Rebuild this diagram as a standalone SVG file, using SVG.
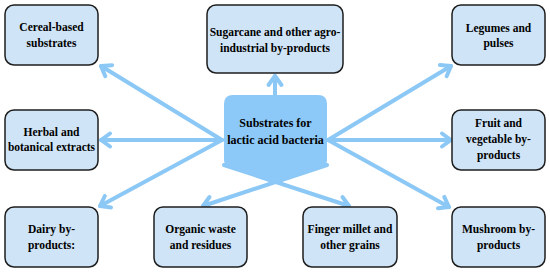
<svg xmlns="http://www.w3.org/2000/svg" width="550" height="272" viewBox="0 0 550 272">
<style>
.box{fill:#cfe4f6;stroke:#1e1e1e;stroke-width:1.5}
.t{font-family:"Liberation Serif","Times New Roman","DejaVu Serif",serif;font-weight:bold;font-size:11.5px;fill:#000;text-anchor:middle}
.tc{font-size:12px}
.c{stroke:#8cc8f5;stroke-width:4;fill:none;stroke-linecap:round;marker-end:url(#ah)}
</style>
<defs>
<marker id="ah" markerUnits="userSpaceOnUse" markerWidth="16" markerHeight="16" viewBox="0 0 16 16" refX="12" refY="8" orient="auto" overflow="visible">
<path d="M3,1.5 L12,8 L3,14.5" fill="none" stroke="#8cc8f5" stroke-width="4" stroke-linecap="round" stroke-linejoin="round"/>
</marker>
</defs>
<g id="connectors">
<line class="c" x1="222" y1="140" x2="101" y2="66"/>
<line class="c" x1="222" y1="140" x2="101" y2="140"/>
<line class="c" x1="222" y1="140" x2="100" y2="206"/>
<line class="c" x1="275" y1="100" x2="275" y2="76"/>
<line class="c" x1="328" y1="140" x2="451" y2="66"/>
<line class="c" x1="328" y1="140" x2="451" y2="140"/>
<line class="c" x1="328" y1="140" x2="449" y2="207"/>
<line class="c" x1="327" y1="165" x2="203" y2="206"/>
<line class="c" x1="224" y1="165" x2="349" y2="206"/>
</g>
<g id="center">
<path d="M233,95 H318 Q327,95 327,104 V160 Q327,165 322,167 L275,184 L229,167 Q224,165 224,160 V104 Q224,95 233,95 Z" fill="#8cc8f8"/>
<text class="t tc" x="275.5" y="127">Substrates for</text>
<text class="t tc" x="275.5" y="144">lactic acid bacteria</text>
</g>
<g id="cereal">
<rect class="box" x="5" y="5" width="93" height="60" rx="9"/>
<text class="t" x="51.5" y="31">Cereal-based</text>
<text class="t" x="51.5" y="47">substrates</text>
</g>
<g id="sugarcane">
<rect class="box" x="207" y="5" width="136" height="68" rx="9"/>
<text class="t" x="275" y="36">Sugarcane and other agro-</text>
<text class="t" x="275" y="52">industrial by-products</text>
</g>
<g id="legumes">
<rect class="box" x="452" y="5" width="93" height="60" rx="9"/>
<text class="t" x="498.5" y="32">Legumes and</text>
<text class="t" x="498.5" y="47">pulses</text>
</g>
<g id="herbal">
<rect class="box" x="5" y="110" width="93" height="60" rx="9"/>
<text class="t" x="51.5" y="136">Herbal and</text>
<text class="t" x="51.5" y="151">botanical extracts</text>
</g>
<g id="fruit">
<rect class="box" x="452" y="110" width="93" height="60" rx="9"/>
<text class="t" x="498.5" y="127">Fruit and</text>
<text class="t" x="498.5" y="143">vegetable by-</text>
<text class="t" x="498.5" y="159">products</text>
</g>
<g id="dairy">
<rect class="box" x="5" y="207" width="93" height="60" rx="9"/>
<text class="t" x="51.5" y="233">Dairy by-</text>
<text class="t" x="51.5" y="249">products:</text>
</g>
<g id="organic">
<rect class="box" x="154" y="207" width="93" height="60" rx="9"/>
<text class="t" x="200.5" y="233">Organic waste</text>
<text class="t" x="200.5" y="249">and residues</text>
</g>
<g id="finger">
<rect class="box" x="303" y="207" width="94" height="60" rx="9"/>
<text class="t" x="350" y="233">Finger millet and</text>
<text class="t" x="350" y="249">other grains</text>
</g>
<g id="mushroom">
<rect class="box" x="452" y="207" width="93" height="60" rx="9"/>
<text class="t" x="498.5" y="233">Mushroom by-</text>
<text class="t" x="498.5" y="249">products</text>
</g>
</svg>
